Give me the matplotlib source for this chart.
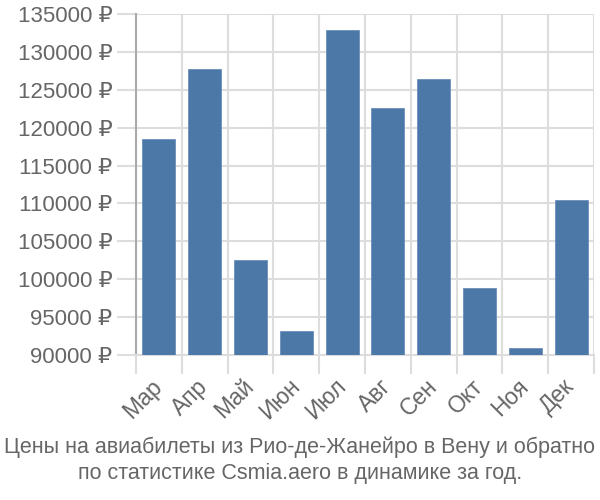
import matplotlib
matplotlib.use('Agg')
import matplotlib.pyplot as plt
import numpy as np

months = ['Мар', 'Апр', 'Май', 'Июн', 'Июл', 'Авг', 'Сен', 'Окт', 'Ноя', 'Дек']
prices = [118500, 127700, 102500, 93150, 132900, 122600, 126400, 98800, 90900, 110450]
y_ticks = list(range(90000, 135001, 5000))

plt.rcParams['font.family'] = ['Liberation Sans', 'DejaVu Sans']

grid_color = '#dddddd'
text_color = '#666666'

fig = plt.figure(figsize=(6, 5), dpi=100)
ax = fig.add_axes([0.2267, 0.29, 0.7633, 0.682])

x = np.arange(len(months))
ax.bar(x, prices, width=0.72, color='#4c78a8', edgecolor='#6b8fbb', linewidth=0.6, zorder=3)

ax.set_ylim(90000, 135000)
ax.set_xlim(-0.5, len(months) - 0.5)

ax.set_yticks(y_ticks)
ax.set_yticklabels([f'{v} ₽' for v in y_ticks])
ax.set_xticks(x)
ax.set_xticklabels(months, rotation=45, ha='right', va='center', rotation_mode='anchor')
ax.set_xticks(np.arange(len(months) + 1) - 0.5, minor=True)

ax.tick_params(axis='y', length=14, width=1.5, color=grid_color, labelsize=16,
               labelcolor=text_color, pad=3)
ax.tick_params(axis='x', which='major', length=0, labelsize=16.5,
               labelcolor=text_color, pad=20)
ax.tick_params(axis='x', which='minor', length=14, width=1.5, color=grid_color)

ax.grid(axis='y', color=grid_color, linewidth=1.5, zorder=0)
ax.grid(axis='x', which='minor', color=grid_color, linewidth=1.5, zorder=0)

for side in ['top', 'right']:
    ax.spines[side].set_visible(False)
ax.spines['left'].set_color('#aaaaaa')
ax.spines['left'].set_linewidth(1.5)
ax.spines['bottom'].set_color(grid_color)
ax.spines['bottom'].set_linewidth(1.5)

fig.text(0.5, 0.106, 'Цены на авиабилеты из Рио-де-Жанейро в Вену и обратно',
         ha='center', va='center', fontsize=15.5, color=text_color)
fig.text(0.5, 0.054, 'по статистике Csmia.aero в динамике за год.',
         ha='center', va='center', fontsize=15.5, color=text_color)

fig.savefig('out.png', dpi=100)
